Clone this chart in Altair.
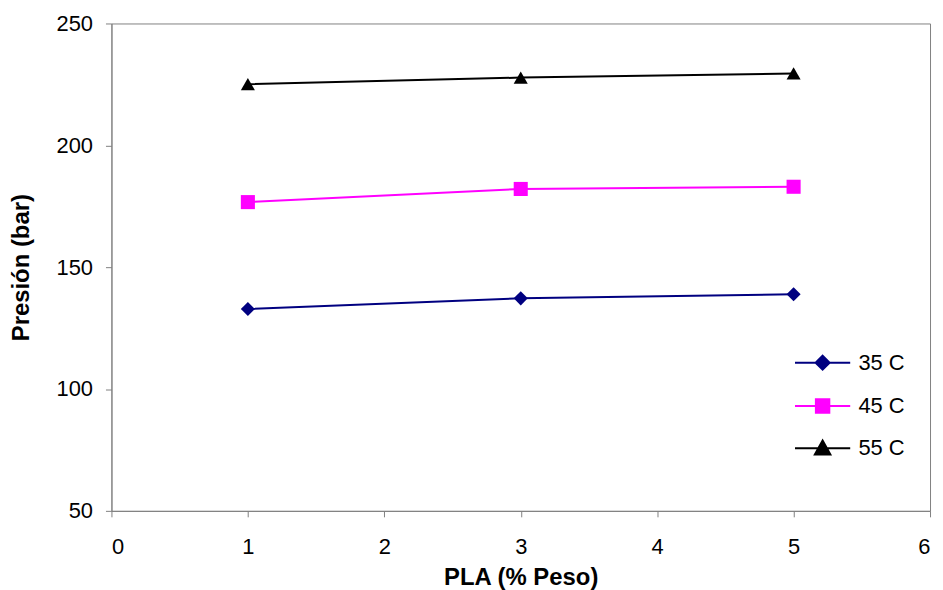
import altair as alt
import pandas as pd

# ---- data ----
pla = [1, 3, 5]
series = ["35 C", "45 C", "55 C"]
p35 = [132.8, 137.2, 138.9]
p45 = [176.7, 182.1, 183.0]
p55 = [225.1, 227.8, 229.5]

x_ticks = [0, 1, 2, 3, 4, 5, 6]
y_ticks = [50, 100, 150, 200, 250]

colors = ["#000080", "#FF00FF", "#000000"]
shapes = ["diamond", "square", "triangle-up"]
# legend glyphs: a short line with the marker in the middle
legend_paths = [
    "M-1.85,0H1.85M0,-0.47L0.47,0L0,0.47L-0.47,0Z",
    "M-1.85,0H1.85M-0.45,-0.45H0.45V0.45H-0.45Z",
    "M-1.85,0H1.85M0,-0.52L0.52,0.42L-0.52,0.42Z",
]

rows = []
for s, vals in zip(series, [p35, p45, p55]):
    for xv, v in zip(pla, vals):
        rows.append({"PLA": xv, "Presion": v, "Serie": s})
df = pd.DataFrame(rows)

FONT = "Liberation Sans"

x = alt.X(
    "PLA:Q",
    scale=alt.Scale(domain=[0, 6], nice=False, zero=False),
    axis=alt.Axis(title="PLA (% Peso)", values=x_ticks, format="d"),
)
y = alt.Y(
    "Presion:Q",
    scale=alt.Scale(domain=[50, 250], nice=False, zero=False),
    axis=alt.Axis(title="Presión (bar)", values=y_ticks, format="d"),
)


def color_enc(legend):
    return alt.Color("Serie:N", scale=alt.Scale(domain=series, range=colors), legend=legend)


lines = alt.Chart(df).mark_line(strokeWidth=2).encode(
    x=x, y=y, color=color_enc(None)
)

points = alt.Chart(df).mark_point(filled=True, size=200, opacity=1).encode(
    x=x,
    y=y,
    color=color_enc(None),
    shape=alt.Shape("Serie:N", scale=alt.Scale(domain=series, range=shapes), legend=None),
)

leg = alt.Legend(
    title=None,
    orient="none",
    legendX=699,
    legendY=325,
    padding=0,
    symbolSize=900,
    symbolStrokeWidth=2,
    symbolOpacity=1,
    rowPadding=15.5,
    labelOffset=20,
    labelFont=FONT,
    labelFontSize=22,
    labelColor="#000000",
)

legend_layer = alt.Chart(df).mark_point(filled=True, opacity=0, strokeWidth=2).encode(
    x=x,
    y=y,
    color=alt.Color("Serie:N", scale=alt.Scale(domain=series, range=colors)),
    stroke=alt.Stroke("Serie:N", scale=alt.Scale(domain=series, range=colors)),
    shape=alt.Shape("Serie:N", scale=alt.Scale(domain=series, range=legend_paths), legend=leg),
)

chart = (
    alt.layer(lines, points, legend_layer)
    .resolve_scale(color="independent", shape="independent", stroke="independent")
    .properties(
        width=823,
        height=490,
        autosize=alt.AutoSizeParams(type="none"),
        padding={"left": 104, "top": 14, "right": 5, "bottom": 78},
    )
    .configure_view(stroke="#808080", strokeWidth=1)
    .configure_axis(
        grid=False,
        domainColor="#808080",
        tickColor="#808080",
        tickSize=6,
        labelFont=FONT,
        labelFontSize=22,
        labelColor="#000000",
        titleFont=FONT,
        titleFontSize=24,
        titleFontWeight="bold",
        titleColor="#000000",
    )
    .configure_axisY(labelPadding=13, titlePadding=23)
    .configure_axisX(labelPadding=20, titlePadding=8)
)

chart.save("out.html", embed_options={"renderer": "svg", "actions": False})
